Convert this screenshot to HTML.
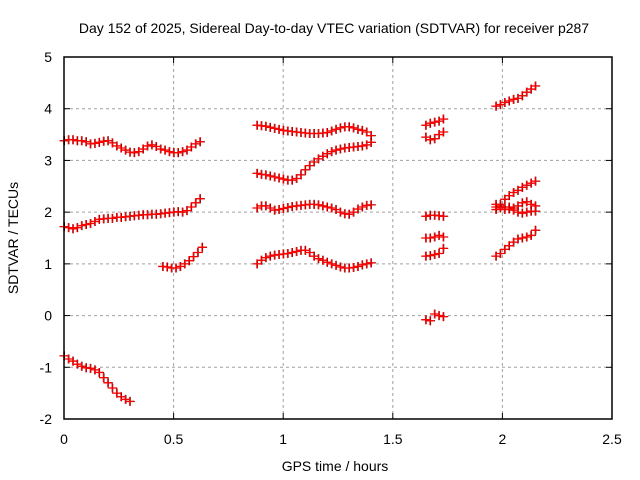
<!DOCTYPE html>
<html><head><meta charset="utf-8"><style>
body{margin:0;background:#fff}
svg{display:block;font-family:"Liberation Sans",sans-serif}
</style></head><body>
<svg id="c" width="640" height="480">
<text x="334" y="33" text-anchor="middle" font-size="14">Day 152 of 2025, Sidereal Day-to-day VTEC variation (SDTVAR) for receiver p287</text>
<text x="335" y="471" text-anchor="middle" font-size="14">GPS time / hours</text>
<text transform="translate(18,238) rotate(-90)" text-anchor="middle" font-size="14">SDTVAR / TECUs</text>
<g id="grid"></g>
<g id="ticks"></g>
<g id="marks"></g>
<rect x="64" y="57" width="548" height="362" fill="none" stroke="#000" stroke-width="1.5"/>
</svg>
<script>
const xTicks=[0,0.5,1,1.5,2,2.5];
const xTickLabels=["0","0.5","1","1.5","2","2.5"];
const yTicks=[-2,-1,0,1,2,3,4,5];
const yTickLabels=["-2","-1","0","1","2","3","4","5"];
const step=0.02;
const seriesStarts=[0,0,0,0.45,0.88,0.88,0.88,0.88,1.65,1.65,1.65,1.65,1.65,1.65,1.97,1.97,1.97,1.97,1.97];
const s1=[3.38,3.40,3.40,3.38,3.38,3.36,3.32,3.33,3.35,3.37,3.38,3.34,3.28,3.24,3.2,3.16,3.15,3.17,3.22,3.28,3.3,3.27,3.22,3.2,3.17,3.15,3.15,3.17,3.2,3.26,3.32,3.36];
const s2=[1.72,1.70,1.68,1.70,1.74,1.76,1.78,1.82,1.86,1.87,1.88,1.88,1.90,1.90,1.91,1.92,1.93,1.94,1.95,1.95,1.96,1.96,1.97,1.98,1.99,2.00,2.01,2.00,2.03,2.10,2.18,2.26];
const s3=[-0.78,-0.84,-0.88,-0.94,-0.98,-1.01,-1.02,-1.05,-1.1,-1.2,-1.3,-1.4,-1.5,-1.57,-1.62,-1.66];
const s4=[0.95,0.94,0.92,0.92,0.95,1.0,1.06,1.14,1.22,1.32];
const s5=[3.68,3.67,3.66,3.64,3.62,3.60,3.58,3.57,3.56,3.55,3.54,3.53,3.52,3.52,3.52,3.53,3.54,3.57,3.60,3.63,3.65,3.65,3.63,3.60,3.58,3.55,3.48];
const s6=[2.75,2.73,2.72,2.70,2.68,2.66,2.64,2.62,2.62,2.65,2.72,2.82,2.9,2.97,3.03,3.08,3.13,3.17,3.2,3.22,3.24,3.25,3.26,3.27,3.28,3.3,3.35];
const s7=[2.08,2.12,2.12,2.08,2.04,2.05,2.07,2.09,2.11,2.12,2.13,2.14,2.15,2.15,2.14,2.12,2.10,2.08,2.05,2.00,1.97,1.96,2.0,2.06,2.1,2.13,2.14];
const s8=[1.0,1.07,1.12,1.15,1.17,1.18,1.19,1.2,1.22,1.24,1.26,1.26,1.22,1.15,1.1,1.07,1.03,1.0,0.97,0.94,0.92,0.92,0.93,0.95,0.98,1.0,1.02];
const s9=[3.68,3.72,3.74,3.76,3.8];
const s10=[3.45,3.4,3.42,3.5,3.55];
const s11=[1.92,1.94,1.94,1.93,1.92];
const s12=[1.5,1.5,1.52,1.55,1.52];
const s13=[1.15,1.16,1.18,1.2,1.3];
const s14=[-0.08,-0.1,0.03,0.0,-0.02];
const s15=[4.05,4.08,4.12,4.15,4.18,4.2,4.25,4.32,4.38,4.44];
const s16=[2.1,2.15,2.25,2.32,2.38,2.42,2.48,2.52,2.56,2.6];
const s17=[2.15,2.12,2.1,2.1,2.08,2.12,2.18,2.2,2.15,2.12];
const s18=[2.05,2.08,2.05,2.06,2.04,2.0,1.98,2.0,2.02,2.02];
const s19=[1.15,1.2,1.28,1.35,1.42,1.48,1.5,1.52,1.55,1.65];
const allSeries=[s1,s2,s3,s4,s5,s6,s7,s8,s9,s10,s11,s12,s13,s14,s15,s16,s17,s18,s19];

const X0=64,X1=612,Y0=419,Y1=57;
function xs(v){return X0+(v-0)/(2.5-0)*(X1-X0);}
function ys(v){return Y0-(v+2)/7*(Y0-Y1);}
const NS="http://www.w3.org/2000/svg";
function mk(tag,attrs,parent){const e=document.createElementNS(NS,tag);for(const k in attrs)e.setAttribute(k,attrs[k]);parent.appendChild(e);return e;}
const grid=document.getElementById('grid'),ticks=document.getElementById('ticks'),marks=document.getElementById('marks');
xTicks.forEach((t,i)=>{
  const x=xs(t);
  if(i>0&&i<xTicks.length-1){const g=mk('line',{x1:x,x2:x,y1:Y1,y2:Y0,stroke:'#a0a0a0','stroke-dasharray':'3,3'},grid);
  
  }
  mk('line',{x1:x,x2:x,y1:Y0,y2:Y0-6,stroke:'#000'},ticks);
  mk('line',{x1:x,x2:x,y1:Y1,y2:Y1+6,stroke:'#000'},ticks);
  const l=mk('text',{x:x,y:444,'text-anchor':'middle','font-size':14},ticks);l.textContent=xTickLabels[i];
  
  
});
yTicks.forEach((t,i)=>{
  const y=ys(t);
  if(i>0&&i<yTicks.length-1){const g=mk('line',{x1:X0,x2:X1,y1:y,y2:y,stroke:'#a0a0a0','stroke-dasharray':'3,3'},grid);
  
  }
  mk('line',{x1:X0,x2:X0+6,y1:y,y2:y,stroke:'#000'},ticks);
  mk('line',{x1:X1,x2:X1-6,y1:y,y2:y,stroke:'#000'},ticks);
  const l=mk('text',{x:52,y:y+5,'text-anchor':'end','font-size':14},ticks);l.textContent=yTickLabels[i];
  
  
});
function plus(x,y,col,w,parent){
  const p=mk('path',{d:`M${x-4.5},${y}h9M${x},${y-4.5}v9`,stroke:col,'stroke-width':w,fill:'none'},parent);
  
  
}
allSeries.forEach((arr,si)=>{
  const g=mk('g',{},marks);
  
  
  arr.forEach((v,j)=>{const x=xs(seriesStarts[si]+j*step),y=ys(v);plus(x+0.5,y,'#000',1,g);});
  arr.forEach((v,j)=>{const x=xs(seriesStarts[si]+j*step),y=ys(v);plus(x,y,'#ff0000',1.3,g);});
});
</script>
</body></html>
